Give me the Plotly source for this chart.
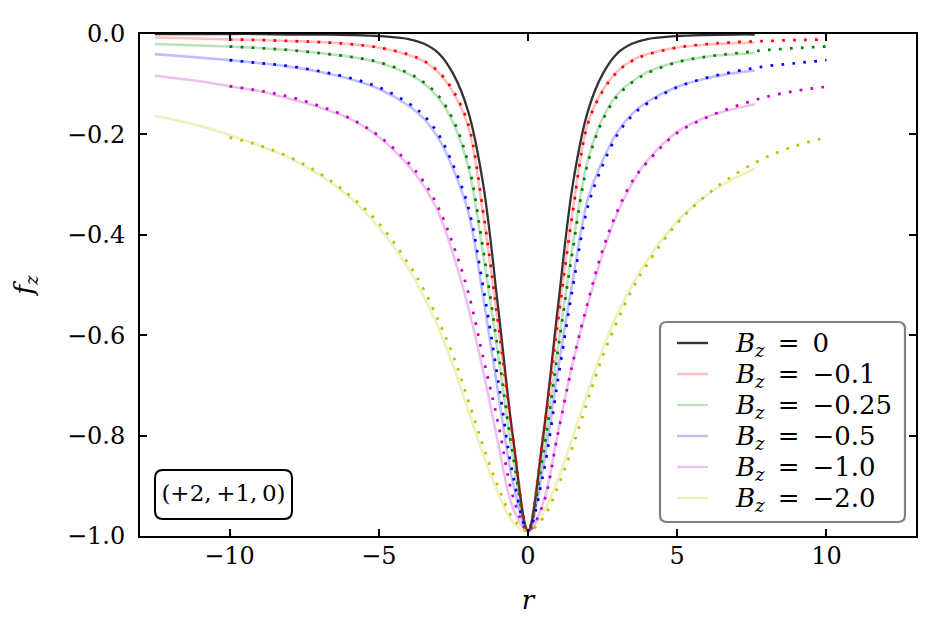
import plotly.graph_objects as go

# ---------------- data ----------------
r_solid = [-12.5, -11, -10, -9, -8, -7, -6, -5, -4, -3.5, -3, -2.5, -2, -1.5, -1, -0.5, 0,
           0.5, 1, 1.5, 2, 2.5, 3, 3.5, 4, 5, 6, 7, 7.6]
r_dot = [-10, -9, -8, -7, -6, -5, -4, -3.5, -3, -2.5, -2, -1.5, -1, -0.5, 0,
         0.5, 1, 1.5, 2, 2.5, 3, 3.5, 4, 5, 6, 7, 8, 9, 10]

labels = ["0", "−0.1", "−0.25", "−0.5", "−1.0", "−2.0"]
panel_label = "(+2,\u2009+1,\u20090)"

solid_B0 = [0, 0, 0, 0, -0.001, -0.001, -0.002, -0.004, -0.010, -0.019, -0.038, -0.080, -0.155, -0.300,
            -0.545, -0.805, -0.99, -0.805, -0.545, -0.300, -0.155, -0.080, -0.038, -0.019, -0.010,
            -0.004, -0.002, -0.001, -0.001]
solid_B01 = [-0.007, -0.009, -0.011, -0.012, -0.014, -0.016, -0.020, -0.027, -0.042, -0.054, -0.077,
             -0.117, -0.185, -0.360, -0.580, -0.808, -0.99, -0.800, -0.570, -0.350, -0.178, -0.112,
             -0.074, -0.052, -0.040, -0.027, -0.021, -0.018, -0.017]
solid_B025 = [-0.020, -0.023, -0.025, -0.028, -0.032, -0.038, -0.045, -0.057, -0.080, -0.098, -0.127,
              -0.178, -0.265, -0.440, -0.640, -0.845, -0.99, -0.835, -0.625, -0.420, -0.252, -0.168,
              -0.120, -0.094, -0.076, -0.056, -0.045, -0.040, -0.038]
solid_B05 = [-0.040, -0.047, -0.052, -0.058, -0.065, -0.075, -0.089, -0.109, -0.143, -0.168, -0.208,
             -0.270, -0.355, -0.525, -0.715, -0.895, -0.99, -0.865, -0.670, -0.490, -0.330, -0.252,
             -0.195, -0.158, -0.135, -0.105, -0.088, -0.077, -0.073]
solid_B1 = [-0.083, -0.094, -0.104, -0.114, -0.129, -0.146, -0.168, -0.205, -0.262, -0.302, -0.356,
            -0.440, -0.545, -0.672, -0.815, -0.945, -0.99, -0.935, -0.795, -0.655, -0.540, -0.438,
            -0.356, -0.296, -0.252, -0.195, -0.165, -0.148, -0.140]
solid_B2 = [-0.163, -0.183, -0.201, -0.222, -0.247, -0.280, -0.324, -0.385, -0.468, -0.522, -0.585,
            -0.662, -0.750, -0.838, -0.915, -0.973, -0.993, -0.955, -0.887, -0.803, -0.713, -0.627,
            -0.557, -0.499, -0.450, -0.373, -0.320, -0.285, -0.269]

dot_B01 = [-0.011, -0.012, -0.014, -0.016, -0.020, -0.027, -0.041, -0.053, -0.075, -0.114, -0.180,
           -0.355, -0.575, -0.805, -0.99, -0.805, -0.575, -0.355, -0.180, -0.114, -0.075, -0.053,
           -0.041, -0.027, -0.020, -0.016, -0.014, -0.012, -0.011]
dot_B025 = [-0.025, -0.028, -0.032, -0.038, -0.045, -0.056, -0.078, -0.096, -0.123, -0.172, -0.258,
            -0.430, -0.632, -0.840, -0.99, -0.840, -0.632, -0.430, -0.258, -0.172, -0.123, -0.096,
            -0.078, -0.056, -0.045, -0.038, -0.032, -0.028, -0.025]
dot_B05 = [-0.052, -0.058, -0.064, -0.074, -0.087, -0.106, -0.138, -0.162, -0.200, -0.262, -0.345,
           -0.505, -0.690, -0.880, -0.99, -0.880, -0.690, -0.505, -0.345, -0.262, -0.200, -0.162,
           -0.138, -0.106, -0.087, -0.074, -0.064, -0.058, -0.052]
dot_B1 = [-0.104, -0.113, -0.125, -0.143, -0.167, -0.203, -0.257, -0.294, -0.346, -0.421, -0.515,
          -0.645, -0.775, -0.922, -0.99, -0.938, -0.797, -0.655, -0.535, -0.430, -0.352, -0.293,
          -0.255, -0.197, -0.166, -0.143, -0.125, -0.113, -0.105]
dot_B2 = [-0.206, -0.222, -0.245, -0.277, -0.320, -0.377, -0.458, -0.508, -0.571, -0.642, -0.730,
          -0.821, -0.902, -0.965, -0.99, -0.965, -0.902, -0.821, -0.730, -0.642, -0.571, -0.508,
          -0.458, -0.377, -0.320, -0.277, -0.245, -0.222, -0.206]

x_ticks = [-10, -5, 0, 5, 10]
x_ticktext = ["−10", "−5", "0", "5", "10"]
y_ticks = [-1.0, -0.8, -0.6, -0.4, -0.2, 0.0]
y_ticktext = ["−1.0", "−0.8", "−0.6", "−0.4", "−0.2", "0.0"]

# ---------------- styling ----------------
FONT = "DejaVu Serif"
FS = 24
solid_colors = ["rgba(0,0,0,0.8)", "rgba(255,0,0,0.25)", "rgba(0,128,0,0.25)",
                "rgba(0,0,255,0.25)", "rgba(191,0,191,0.25)", "rgba(191,191,0,0.25)"]
dot_colors = [None, "#ff0000", "#008000", "#0000ff", "#bf00bf", "#bfbf00"]

solids = [solid_B0, solid_B01, solid_B025, solid_B05, solid_B1, solid_B2]
dots = [None, dot_B01, dot_B025, dot_B05, dot_B1, dot_B2]
names = ["<i>B</i><sub><i>z</i></sub>\u2002=\u2002" + s for s in labels]

W, H = 936, 642
L, R, T, B = 140, 20, 34, 106
pw, ph = W - L - R, H - T - B
XR = [-13, 13]
YR = [-1, 0]


def px2paper(x, y):
    return (x - L) / pw, (H - B - y) / ph


def px2data(x, y):
    return XR[0] + (x - L) / pw * (XR[1] - XR[0]), YR[1] - (y - T) / ph * (YR[1] - YR[0])


fig = go.Figure()
for i in range(6):
    fig.add_trace(go.Scatter(
        x=r_solid, y=solids[i], mode="lines", line_shape="spline",
        line=dict(color=solid_colors[i], width=2.6 if i else 2.3),
        name=names[i], showlegend=False))
    if dots[i] is not None:
        fig.add_trace(go.Scatter(
            x=r_dot, y=dots[i], mode="lines", line_shape="spline",
            line=dict(color=dot_colors[i], width=2.7, dash="2.7px,8.3px"),
            showlegend=False, hoverinfo="skip"))


def rounded_rect(x0, y0, x1, y1, rad):
    rx, ry = rad / pw, rad / ph
    a0, b1 = px2paper(x0, y0)
    a1, b0 = px2paper(x1, y1)
    return (f"M {a0+rx},{b1} L {a1-rx},{b1} Q {a1},{b1} {a1},{b1-ry} "
            f"L {a1},{b0+ry} Q {a1},{b0} {a1-rx},{b0} L {a0+rx},{b0} "
            f"Q {a0},{b0} {a0},{b0+ry} L {a0},{b1-ry} Q {a0},{b1} {a0+rx},{b1} Z")


shapes = [
    dict(type="path", xref="paper", yref="paper", layer="below",
         path=rounded_rect(660, 322, 905, 522, 7),
         fillcolor="white", line=dict(color="#808080", width=2.2)),
    dict(type="path", xref="paper", yref="paper", layer="below",
         path=rounded_rect(155, 470, 292, 519, 8),
         fillcolor="white", line=dict(color="black", width=2)),
]

# hand-drawn legend (line samples + labels)
entry_y = [343, 374, 405, 436, 467, 498]
leg_x, leg_y = [], []
for i, yy in enumerate(entry_y):
    xa, ya = px2paper(677, yy)
    xb, _ = px2paper(708, yy)
    shapes.append(dict(type="line", xref="paper", yref="paper", layer="above",
                       x0=xa, x1=xb, y0=ya, y1=ya,
                       line=dict(color=solid_colors[i], width=2.4)))
    dx, dy = px2data(736, yy + 2)
    leg_x.append(dx)
    leg_y.append(dy)

fig.add_trace(go.Scatter(x=leg_x, y=leg_y, mode="text", text=names,
                         textposition="middle right",
                         textfont=dict(family=FONT, size=26, color="black"),
                         showlegend=False, hoverinfo="skip", cliponaxis=False))

px_, py_ = px2data(223.5, 495)
fig.add_trace(go.Scatter(x=[px_], y=[py_], mode="text", text=[panel_label],
                         textposition="middle center",
                         textfont=dict(family=FONT, size=23, color="black"),
                         showlegend=False, hoverinfo="skip", cliponaxis=False))

ax_common = dict(showline=True, linecolor="black", linewidth=2, mirror="ticks",
                 ticks="inside", ticklen=7, tickwidth=1.5, tickcolor="black",
                 showgrid=False, zeroline=False,
                 tickfont=dict(family=FONT, size=FS, color="black"))

fig.update_layout(
    width=W, height=H,
    margin=dict(l=L, r=R, t=T, b=B),
    paper_bgcolor="white", plot_bgcolor="white",
    font=dict(family=FONT, size=FS, color="black"),
    xaxis=dict(range=XR, tickvals=x_ticks, ticktext=x_ticktext,
               ticklabelstandoff=-3,
               title=dict(text="<i>r</i>", font=dict(family=FONT, size=26), standoff=22),
               **ax_common),
    yaxis=dict(range=YR, tickvals=y_ticks, ticktext=y_ticktext,
               ticklabelstandoff=8,
               title=dict(text="<i>f</i><sub><i>z</i></sub>", font=dict(family=FONT, size=26),
                          standoff=26),
               **ax_common),
    shapes=shapes,
    showlegend=False,
)

fig.write_html("out.html")
